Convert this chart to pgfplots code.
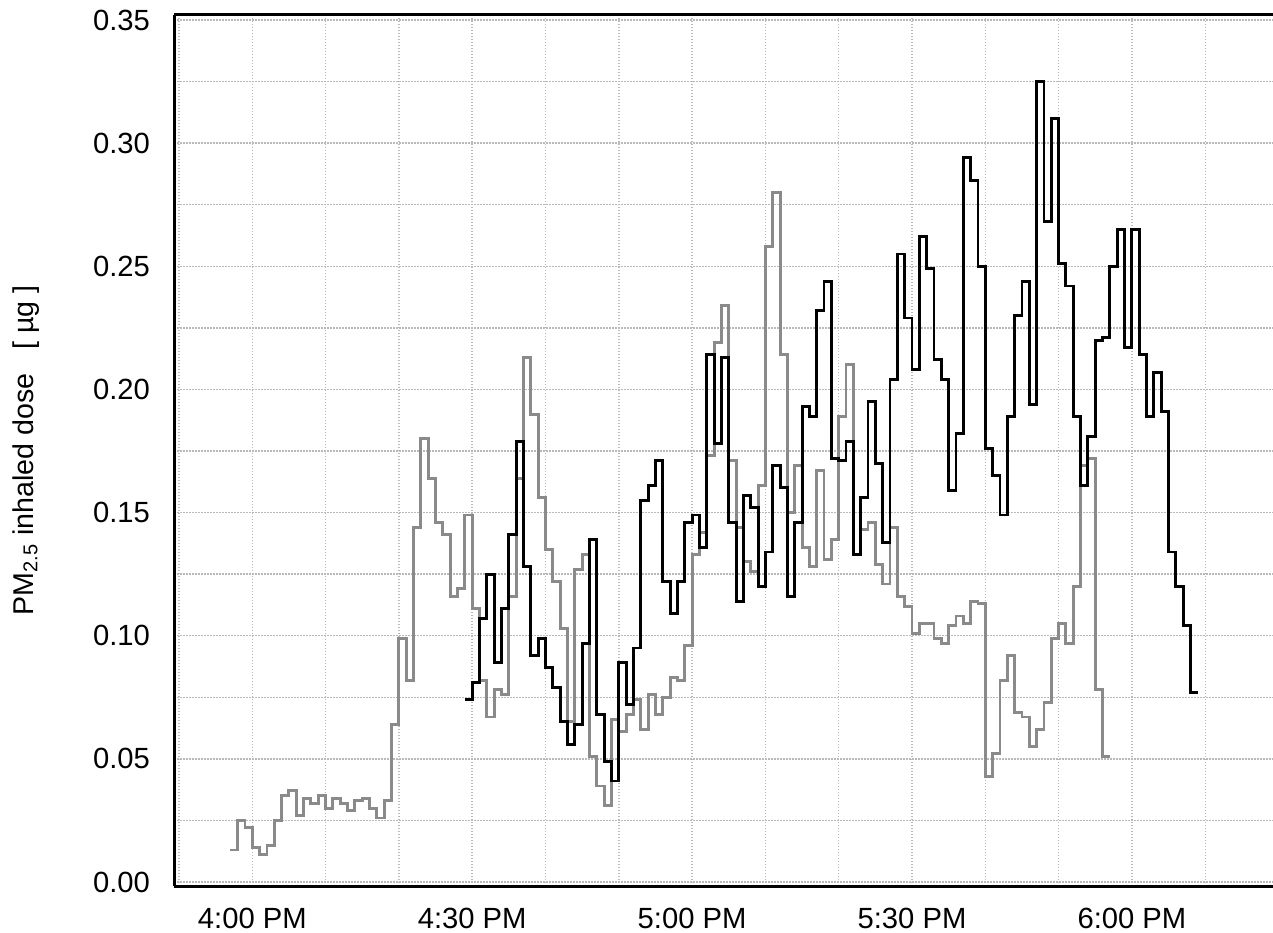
\documentclass[border=0pt]{standalone}
\usepackage{fontspec}
\setmainfont{Liberation Sans}
\usepackage{pgfplots}
\usepackage{pgfplotstable}
\pgfplotsset{compat=1.18}
\usetikzlibrary{calc}
\definecolor{doseGray}{RGB}{138,138,138}
\definecolor{gridGray}{RGB}{185,185,185}

% minutes after 4:00 PM, inhaled dose in ug (one step per minute)
\pgfplotstableread{
t v
-3 0.013
-2 0.025
-1 0.022
0 0.014
1 0.011
2 0.015
3 0.025
4 0.035
5 0.037
6 0.027
7 0.034
8 0.032
9 0.035
10 0.030
11 0.034
12 0.032
13 0.029
14 0.033
15 0.034
16 0.030
17 0.026
18 0.033
19 0.064
20 0.099
21 0.082
22 0.144
23 0.180
24 0.164
25 0.146
26 0.141
27 0.116
28 0.119
29 0.149
30 0.111
31 0.082
32 0.067
33 0.078
34 0.076
35 0.116
36 0.164
37 0.213
38 0.190
39 0.156
40 0.135
41 0.122
42 0.103
43 0.065
44 0.127
45 0.133
46 0.051
47 0.039
48 0.031
49 0.066
50 0.061
51 0.068
52 0.074
53 0.062
54 0.076
55 0.068
56 0.075
57 0.083
58 0.082
59 0.096
60 0.133
61 0.142
62 0.173
63 0.219
64 0.234
65 0.171
66 0.144
67 0.130
68 0.126
69 0.161
70 0.258
71 0.280
72 0.214
73 0.150
74 0.169
75 0.136
76 0.128
77 0.167
78 0.131
79 0.139
80 0.189
81 0.210
82 0.133
83 0.143
84 0.146
85 0.129
86 0.121
87 0.144
88 0.116
89 0.112
90 0.101
91 0.105
92 0.105
93 0.099
94 0.097
95 0.104
96 0.108
97 0.105
98 0.114
99 0.113
100 0.043
101 0.052
102 0.082
103 0.092
104 0.069
105 0.067
106 0.055
107 0.062
108 0.073
109 0.099
110 0.105
111 0.097
112 0.120
113 0.169
114 0.172
115 0.078
116 0.051
117 0.051
}\graydose

\pgfplotstableread{
t v
29 0.074
30 0.081
31 0.107
32 0.125
33 0.089
34 0.111
35 0.141
36 0.179
37 0.128
38 0.092
39 0.099
40 0.087
41 0.079
42 0.065
43 0.056
44 0.064
45 0.097
46 0.139
47 0.068
48 0.049
49 0.041
50 0.089
51 0.072
52 0.095
53 0.155
54 0.161
55 0.171
56 0.122
57 0.109
58 0.122
59 0.146
60 0.149
61 0.136
62 0.214
63 0.178
64 0.213
65 0.146
66 0.114
67 0.157
68 0.152
69 0.120
70 0.134
71 0.169
72 0.160
73 0.116
74 0.146
75 0.193
76 0.189
77 0.232
78 0.244
79 0.172
80 0.171
81 0.179
82 0.133
83 0.156
84 0.195
85 0.170
86 0.138
87 0.204
88 0.255
89 0.229
90 0.208
91 0.262
92 0.249
93 0.212
94 0.204
95 0.159
96 0.182
97 0.294
98 0.285
99 0.250
100 0.176
101 0.165
102 0.149
103 0.189
104 0.230
105 0.244
106 0.194
107 0.325
108 0.268
109 0.310
110 0.251
111 0.242
112 0.189
113 0.161
114 0.181
115 0.220
116 0.221
117 0.250
118 0.265
119 0.217
120 0.265
121 0.214
122 0.189
123 0.207
124 0.191
125 0.134
126 0.120
127 0.104
128 0.077
129 0.077
}\blackdose

\begin{document}
\begin{tikzpicture}
\begin{axis}[
	scale only axis,
	width=549.35pt,
	height=435.5pt,
	xmin=-10.64, xmax=139.25,
	ymin=-0.00162, ymax=0.35203,
	axis x line*=box,
	axis y line*=left,
	axis line style={line width=1.5pt, black},
	xtick={0,30,60,90,120},
	xticklabels={4:00 PM,4:30 PM,5:00 PM,5:30 PM,6:00 PM},
	minor xtick={-10,10,20,40,50,70,80,100,110,130},
	ytick={0,0.05,0.10,0.15,0.20,0.25,0.30,0.35},
	yticklabels={0.00,0.05,0.10,0.15,0.20,0.25,0.30,0.35},
	minor ytick={0.025,0.075,0.125,0.175,0.225,0.275,0.325},
	major tick length=0pt,
	minor tick length=0pt,
	grid=both,
	major grid style={gridGray, line width=0.7pt, dash pattern=on 0.7pt off 0.8pt},
	minor grid style={gridGray, line width=0.7pt, dash pattern=on 0.7pt off 0.8pt},
	tick label style={font=\fontsize{14.6}{17}\selectfont, inner sep=0pt},
	xticklabel style={anchor=north, yshift=-11pt},
	yticklabel style={anchor=east, xshift=-12pt},
	ylabel={PM\textsubscript{2.5} inhaled dose~~~[ µg ]},
	ylabel style={font=\fontsize{14.3}{17}\selectfont, inner sep=0pt,
		at={($(rel axis cs:0,0.5)+(-70.6pt,0pt)$)}, anchor=base, rotate=0},
	clip=false,
]
\addplot[const plot mark left, doseGray, line width=1.45pt, no marks] table[x=t, y=v] {\graydose};
\addplot[const plot mark left, black, line width=1.45pt, no marks] table[x=t, y=v] {\blackdose};
\coordinate (sw) at (rel axis cs:0,0);
\coordinate (ne) at (rel axis cs:1,1);
\end{axis}
\pgfresetboundingbox
\path[use as bounding box] ([xshift=-87.15pt,yshift=-23pt]sw) rectangle ([yshift=7.5pt]ne);
\end{tikzpicture}
\end{document}
